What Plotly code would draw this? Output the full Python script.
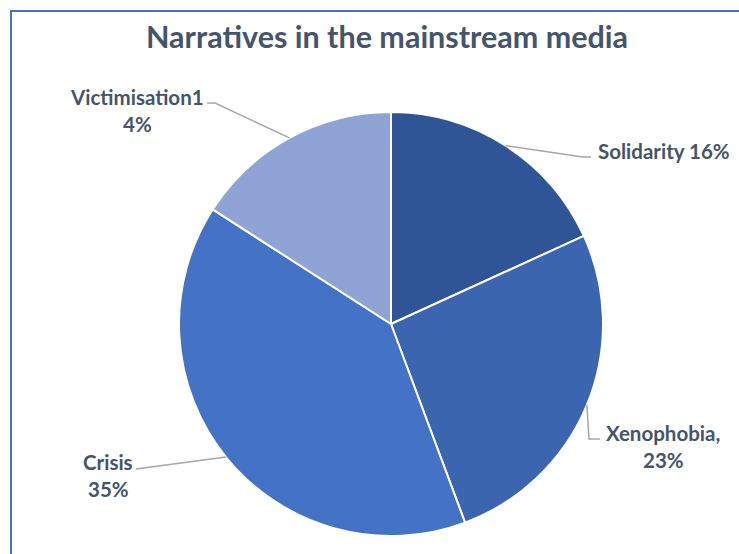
import math
import plotly.graph_objects as go

# Share of each narrative in mainstream media coverage
categories = ["Solidarity", "Xenophobia", "Crisis", "Victimisation"]
values = [16, 23, 35, 14]
name_labels = ["Solidarity 16%", "Xenophobia,", "Crisis", "Victimisation1"]
pct_labels = ["", "23%", "35%", "4%"]
colors = ["#2F5597", "#3B65AE", "#4472C4", "#8FA3D5"]

W, H = 739, 554
TEXT = "#44546A"
FONT = "Lato"

# pie placement in pixels (centre + radius), converted to a paper domain
cx, cy, r = 391, 324, 212
dom_x = [(cx - r) / W, (cx + r) / W]
dom_y = [1 - (cy + r) / H, 1 - (cy - r) / H]

fig = go.Figure(go.Pie(
    labels=categories,
    values=values,
    sort=False,
    direction="clockwise",
    rotation=0,
    marker=dict(colors=colors, line=dict(color="white", width=2)),
    textinfo="none",
    hoverinfo="label+value",
    domain=dict(x=dom_x, y=dom_y),
    showlegend=False,
))


def px(x, y):
    return x / W, 1 - y / H


# mid-angle of every slice, measured clockwise from 12 o'clock
total = sum(values)
mids = []
acc = 0
for v in values:
    mids.append((acc + v / 2) / total * 2 * math.pi)
    acc += v
edge = [(cx + r * math.sin(a), cy - r * math.cos(a)) for a in mids]

# leader-line elbows and label anchors (pixel layout)
elbows = [
    [(583, 157), (591, 157)],
    [(589, 439), (600, 439)],
    [(136, 469)],
    [(215, 103), (207, 103)],
]
label_pos = [
    (596, 151, "left"),
    (663, 433, "center"),
    (108, 462, "center"),
    (137, 97, "center"),
]

shapes = []
line_style = dict(color="#A6A6A6", width=1.5)
for (ex, ey), pts in zip(edge, elbows):
    path_pts = [(ex, ey)] + pts
    d = "M " + " L ".join(f"{px(x, y)[0]},{px(x, y)[1]}" for x, y in path_pts)
    shapes.append(dict(type="path", xref="paper", yref="paper", path=d, line=line_style))

# blue frame along the top and left edges
shapes.append(dict(type="line", xref="paper", yref="paper",
                   x0=10 / W, x1=1.0, y0=1 - 11 / H, y1=1 - 11 / H,
                   line=dict(color="#4472C4", width=2)))
shapes.append(dict(type="line", xref="paper", yref="paper",
                   x0=11 / W, x1=11 / W, y0=1 - 10 / H, y1=0,
                   line=dict(color="#4472C4", width=2)))

annotations = []
label_font = dict(family=FONT, size=20.5, color=TEXT)
for (lx, ly, anchor), name, pct in zip(label_pos, name_labels, pct_labels):
    x, y = px(lx, ly)
    annotations.append(dict(x=x, y=y, xref="paper", yref="paper", text=f"<b>{name}</b>",
                            showarrow=False, xanchor=anchor, yanchor="middle", font=label_font))
    if pct:
        x2, y2 = px(lx, ly + 27)
        annotations.append(dict(x=x2, y=y2, xref="paper", yref="paper", text=f"<b>{pct}</b>",
                                showarrow=False, xanchor=anchor, yanchor="middle", font=label_font))

tx, ty = px(386.5, 36)
annotations.append(dict(x=tx, y=ty, xref="paper", yref="paper",
                        text="<b>Narratives in the mainstream media</b>", showarrow=False,
                        xanchor="center", yanchor="middle",
                        font=dict(family=FONT, size=30.5, color=TEXT)))

fig.update_layout(
    width=W, height=H,
    margin=dict(l=0, r=0, t=0, b=0),
    paper_bgcolor="white",
    plot_bgcolor="white",
    shapes=shapes,
    annotations=annotations,
)

fig.write_html("out.html")
